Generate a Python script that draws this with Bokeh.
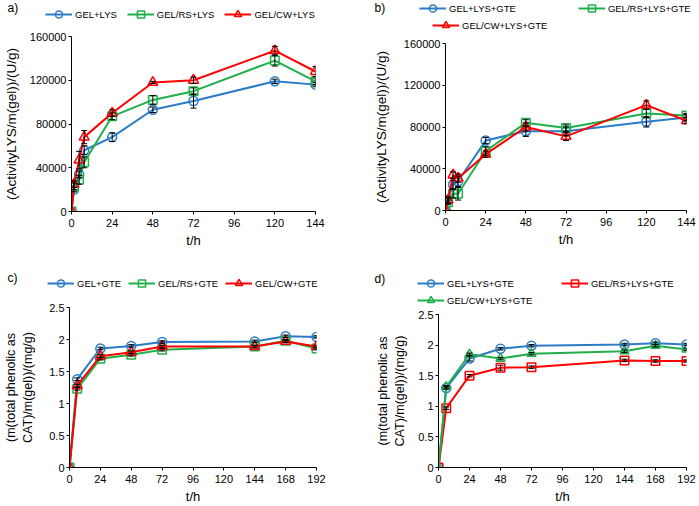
from bokeh.plotting import figure
from bokeh.models import (Range1d, Legend, LegendItem, Whisker, TeeHead, Label,
                          ColumnDataSource, FixedTicker)
from bokeh.layouts import column, row
from bokeh.embed import file_html
from bokeh.resources import INLINE

# ---------------- data ----------------
t_ab = [0, 1.5, 4.5, 7.5, 24, 48, 72, 120, 144]
a_gel_lys = [0, 20000, 34000, 56000, 68000, 93000, 101000, 119000, 116000]
a_gel_lys_err = [0, 2000, 3000, 4000, 4000, 2500, 6500, 2000, 2000]
a_rs_lys = [0, 23000, 29000, 45000, 87000, 102000, 110000, 138000, 119000]
a_rs_lys_err = [0, 3000, 4000, 5000, 3000, 4000, 3000, 5000, 3000]
a_cw_lys = [0, 25000, 47000, 68000, 90000, 118000, 120000, 147000, 128000]
a_cw_lys_err = [0, 3000, 8000, 6000, 3000, 1000, 3000, 4000, 4500]

b_gel_lys_gte = [0, 10000, 25000, 28000, 67000, 76000, 76000, 85000, 89000]
b_gel_lys_gte_err = [0, 2000, 4000, 5000, 3000, 5000, 4000, 5000, 3000]
b_rs_lys_gte = [0, 8000, 16000, 16000, 57000, 84000, 79000, 93000, 91000]
b_rs_lys_gte_err = [0, 2000, 4000, 6000, 4000, 3000, 3000, 4000, 2000]
b_cw_lys_gte = [0, 10000, 34000, 31000, 54000, 80000, 71000, 101000, 86000]
b_cw_lys_gte_err = [0, 3000, 3000, 4000, 3000, 4000, 4000, 4000, 3000]

t_cd = [0, 6, 24, 48, 72, 144, 168, 192]
c_gel_gte = [0, 1.38, 1.86, 1.90, 1.96, 1.97, 2.05, 2.04]
c_gel_gte_err = [0, 0.02, 0.02, 0.02, 0.02, 0.02, 0.02, 0.02]
c_rs_gte = [0, 1.23, 1.70, 1.76, 1.84, 1.89, 1.98, 1.86]
c_rs_gte_err = [0, 0.02, 0.02, 0.02, 0.02, 0.02, 0.02, 0.02]
c_cw_gte = [0, 1.28, 1.74, 1.80, 1.89, 1.89, 1.97, 1.89]
c_cw_gte_err = [0, 0.02, 0.02, 0.02, 0.02, 0.02, 0.02, 0.02]

d_gel_lys_gte = [0, 1.30, 1.78, 1.94, 1.99, 2.01, 2.03, 2.01]
d_gel_lys_gte_err = [0, 0.02, 0.04, 0.02, 0.02, 0.02, 0.02, 0.02]
d_rs_lys_gte = [0, 0.97, 1.50, 1.63, 1.64, 1.75, 1.74, 1.74]
d_rs_lys_gte_err = [0, 0.02, 0.02, 0.04, 0.02, 0.02, 0.02, 0.02]
d_cw_lys_gte = [0, 1.32, 1.85, 1.78, 1.86, 1.90, 1.99, 1.93]
d_cw_lys_gte_err = [0, 0.02, 0.02, 0.02, 0.02, 0.02, 0.02, 0.02]

x_ticks_ab = [0, 24, 48, 72, 96, 120, 144]
x_ticks_cd = [0, 24, 48, 72, 96, 120, 144, 168, 192]
y_ticks_ab = [0, 40000, 80000, 120000, 160000]
y_labels_ab = ["0", "40000", "80000", "120000", "160000"]
y_ticks_cd = [0, 0.5, 1, 1.5, 2, 2.5]
y_labels_cd = ["0", "0.5", "1", "1.5", "2", "2.5"]

YLAB_AB = "(ActivityLYS/m(gel))/(U/g)"
YLAB_CD = "(m(total phenolic as\nCAT)/m(gel))/(mg/g)"
XLAB = "t/h"

BLUE = "#2C7BC6"
GREEN = "#1FB04B"
RED = "#FF0000"
FONT = "Liberation Sans"


def key(v):
    return int(v) if float(v).is_integer() else v


def blank_fig(W, H):
    """Figure whose frame is the whole canvas; holds the legend and the panel tag."""
    p = figure(width=W, height=H, x_range=Range1d(-20, -10), y_range=Range1d(-20, -10),
               output_backend="svg", toolbar_location=None, min_border=0,
               x_axis_location=None, y_axis_location=None)
    p.outline_line_color = None
    p.grid.visible = False
    p.title.visible = False
    p.background_fill_color = "white"
    p.border_fill_color = "white"
    return p


def tag(p, s, x, y):
    p.add_layout(Label(x=x, y=y, x_units="screen", y_units="screen", text=s,
                       text_font=FONT, text_font_size="12px", text_align="left",
                       text_baseline="alphabetic", text_color="black"))


def main_fig(W, H, left, right, top, bottom, xr, yr, xt, yt, yl,
             ylab, ylab_size, ylab_standoff, xstand, xlstand):
    p = figure(width=W, height=H, x_range=Range1d(*xr), y_range=Range1d(*yr),
               output_backend="svg", toolbar_location=None,
               min_border_left=left, min_border_right=right,
               min_border_top=top, min_border_bottom=bottom)
    p.title.visible = False
    p.xgrid.visible = False
    p.ygrid.visible = False
    p.outline_line_color = None
    p.background_fill_color = "white"
    p.border_fill_color = "white"
    p.xaxis.ticker = FixedTicker(ticks=xt)
    p.yaxis.ticker = FixedTicker(ticks=yt)
    p.yaxis.major_label_overrides = {key(v): s for v, s in zip(yt, yl)}
    for ax in (p.xaxis[0], p.yaxis[0]):
        ax.axis_line_color = "black"
        ax.axis_line_width = 1
        ax.major_tick_line_color = "black"
        ax.major_tick_out = 3
        ax.major_tick_in = 0
        ax.minor_tick_line_color = None
        ax.major_label_text_font = FONT
        ax.major_label_text_font_size = "11px"
        ax.major_label_text_color = "black"
        ax.axis_label_text_font = FONT
        ax.axis_label_text_font_style = "normal"
        ax.axis_label_text_color = "black"
    p.xaxis.major_label_standoff = xstand
    p.yaxis.major_label_standoff = 2
    p.xaxis.axis_label = XLAB
    p.xaxis.axis_label_text_font_size = "13px"
    p.xaxis.axis_label_standoff = xlstand
    p.yaxis.axis_label = ylab
    p.yaxis.axis_label_text_font_size = ylab_size
    p.yaxis.axis_label_standoff = ylab_standoff
    return p


def add_series(p, t, v, e, color, marker, size):
    p.line(t, v, line_color=color, line_width=2)
    p.scatter(t, v, marker=marker, size=size, line_color=color, fill_color=None,
              line_width=1.5)
    xs = [ti for ti, ei in zip(t, e) if ei > 0]
    up = [vi + ei for vi, ei in zip(v, e) if ei > 0]
    lo = [vi - ei for vi, ei in zip(v, e) if ei > 0]
    src = ColumnDataSource(dict(x=xs, upper=up, lower=lo))
    p.add_layout(Whisker(source=src, base="x", upper="upper", lower="lower",
                         line_color="black", line_width=1, level="annotation",
                         upper_head=TeeHead(size=6, line_color="black", line_width=1),
                         lower_head=TeeHead(size=6, line_color="black", line_width=1)))


def proxy(h, t, v, color, marker, size):
    """Legend key drawn in a header figure; its data lie outside that figure's ranges."""
    lr = h.line(t, v, line_color=color, line_width=2)
    sr = h.scatter(t, v, marker=marker, size=size, line_color=color, fill_color=None,
                   line_width=1.5)
    return [lr, sr]


def add_legend(h, entries, x, y, spacing):
    gh = 18
    leg = Legend(items=[LegendItem(label=lab, renderers=r) for lab, r in entries],
                 location=(x, y), orientation="horizontal", padding=0, margin=0,
                 spacing=spacing, border_line_color=None, background_fill_alpha=0,
                 glyph_width=27, glyph_height=gh, label_height=gh, label_standoff=3,
                 label_text_font=FONT, label_text_font_size="9.5px",
                 label_text_color="black")
    h.add_layout(leg)


WL, WR = 365, 334

# ================= panel a =================
hdr_a = blank_fig(WL, 30)
tag(hdr_a, "a)", 7, 23)
la1 = proxy(hdr_a, t_ab, a_gel_lys, BLUE, "circle", 9)
la2 = proxy(hdr_a, t_ab, a_rs_lys, GREEN, "square", 8.5)
la3 = proxy(hdr_a, t_ab, a_cw_lys, RED, "triangle", 10)
add_legend(hdr_a, [("GEL+LYS", la1), ("GEL/RS+LYS", la2), ("GEL/CW+LYS", la3)], 45, 7, 10)

pa = main_fig(WL, 220, 70, 50, 6, 38, (0, 144), (0, 160000), x_ticks_ab, y_ticks_ab,
              y_labels_ab, YLAB_AB, "13.5px", 8, 4, 3)
add_series(pa, t_ab, a_gel_lys, a_gel_lys_err, BLUE, "circle", 9)
add_series(pa, t_ab, a_rs_lys, a_rs_lys_err, GREEN, "square", 8.5)
add_series(pa, t_ab, a_cw_lys, a_cw_lys_err, RED, "triangle", 10)

# ================= panel b =================
hdr_b = blank_fig(WR, 37)
tag(hdr_b, "b)", 9, 30)
lb1 = proxy(hdr_b, t_ab, b_gel_lys_gte, BLUE, "circle", 9)
lb2 = proxy(hdr_b, t_ab, b_rs_lys_gte, GREEN, "square", 8.5)
lb3 = proxy(hdr_b, t_ab, b_cw_lys_gte, RED, "triangle", 10)
add_legend(hdr_b, [("GEL+LYS+GTE", lb1), ("GEL/RS+LYS+GTE", lb2)], 54, 20, 62)
add_legend(hdr_b, [("GEL/CW+LYS+GTE", lb3)], 67, 3, 0)

pb = main_fig(WR, 213, 80, 13, 6, 40, (0, 144), (0, 160000), x_ticks_ab, y_ticks_ab,
              y_labels_ab, YLAB_AB, "13.5px", 12, 4, 3)
add_series(pb, t_ab, b_gel_lys_gte, b_gel_lys_gte_err, BLUE, "circle", 9)
add_series(pb, t_ab, b_rs_lys_gte, b_rs_lys_gte_err, GREEN, "square", 8.5)
add_series(pb, t_ab, b_cw_lys_gte, b_cw_lys_gte_err, RED, "triangle", 10)

# ================= panel c =================
hdr_c = blank_fig(WL, 44)
tag(hdr_c, "c)", 7, 17)
lc1 = proxy(hdr_c, t_cd, c_gel_gte, BLUE, "circle", 9)
lc2 = proxy(hdr_c, t_cd, c_rs_gte, GREEN, "square", 8.5)
lc3 = proxy(hdr_c, t_cd, c_cw_gte, RED, "triangle", 10)
add_legend(hdr_c, [("GEL+GTE", lc1), ("GEL/RS+GTE", lc2), ("GEL/CW+GTE", lc3)], 47, 2, 7)

pc = main_fig(WL, 212, 69, 49, 13, 39, (0, 192), (0, 2.5), x_ticks_cd, y_ticks_cd,
              y_labels_cd, YLAB_CD, "12.5px", 11, 4, 3)
add_series(pc, t_cd, c_gel_gte, c_gel_gte_err, BLUE, "circle", 9)
add_series(pc, t_cd, c_rs_gte, c_rs_gte_err, GREEN, "square", 8.5)
add_series(pc, t_cd, c_cw_gte, c_cw_gte_err, RED, "triangle", 10)

# ================= panel d =================
hdr_d = blank_fig(WR, 57)
tag(hdr_d, "d)", 9, 29)
ld1 = proxy(hdr_d, t_cd, d_gel_lys_gte, BLUE, "circle", 9)
ld2 = proxy(hdr_d, t_cd, d_rs_lys_gte, RED, "square", 8.5)
ld3 = proxy(hdr_d, t_cd, d_cw_lys_gte, GREEN, "triangle", 9)
add_legend(hdr_d, [("GEL+LYS+GTE", ld1), ("GEL/RS+LYS+GTE", ld2)], 52, 15, 47)
add_legend(hdr_d, [("GEL/CW+LYS+GTE", ld3)], 52, -2, 0)

pd = main_fig(WR, 199, 73, 13, 7, 39, (0, 192), (0, 2.5), x_ticks_cd, y_ticks_cd,
              y_labels_cd, YLAB_CD, "12.5px", 8, 4, 3)
add_series(pd, t_cd, d_gel_lys_gte, d_gel_lys_gte_err, BLUE, "circle", 9)
add_series(pd, t_cd, d_rs_lys_gte, d_rs_lys_gte_err, RED, "square", 8.5)
add_series(pd, t_cd, d_cw_lys_gte, d_cw_lys_gte_err, GREEN, "triangle", 9)

# every figure sits in its own row so that Bokeh does not align the frames
left_col = column(row(hdr_a), row(pa), row(hdr_c), row(pc))
right_col = column(row(hdr_b), row(pb), row(hdr_d), row(pd))
layout = row(left_col, right_col)
open("out.html", "w").write(file_html(layout, INLINE))
